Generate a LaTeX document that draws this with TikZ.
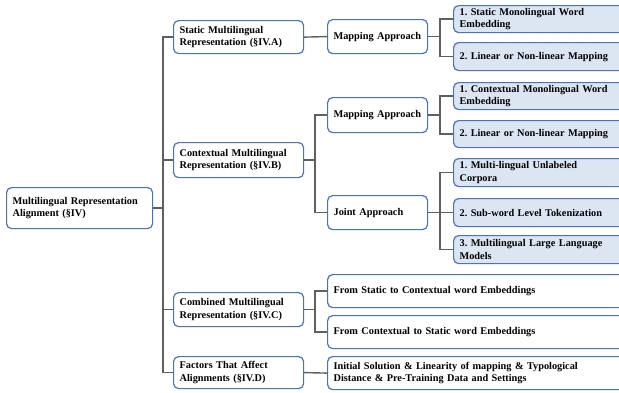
\documentclass[tikz,border=0pt]{standalone}
\usepackage{fontspec}
\setmainfont{Liberation Serif}
\frenchspacing
\definecolor{bord}{HTML}{4A72C0}
\definecolor{leaf}{HTML}{DCE6F3}
\definecolor{conn}{HTML}{606060}
\tikzset{
  box/.style={draw=bord, line width=1.2pt, rounded corners=5pt, fill=white, anchor=north west,
    align=left, inner xsep=6pt, inner ysep=0pt, font=\fontsize{10.3}{12.5}\selectfont\bfseries},
  leafbox/.style={box, fill=leaf},
  link/.style={draw=conn, line width=1.4pt},
}
\begin{document}
\frenchspacing
\begin{tikzpicture}[x=1pt,y=-1pt]
\useasboundingbox (0,0) rectangle (619,392);
\clip (0,0) rectangle (619,392);
% root
\node[box, minimum width=146pt, minimum height=41pt, text width=134pt] (root) at (6,187) {Multilingual Representation\\Alignment (§IV)};
% level 1
\node[box, minimum width=130pt, minimum height=33pt, text width=118pt] (stat) at (173,20) {Static Multilingual\\Representation (§IV.A)};
\node[box, minimum width=130pt, minimum height=35pt, text width=118pt] (ctx) at (173,142) {Contextual Multilingual\\Representation (§IV.B)};
\node[box, minimum width=130pt, minimum height=34pt, text width=118pt] (comb) at (173,292) {Combined Multilingual\\Representation (§IV.C)};
\node[box, minimum width=130pt, minimum height=32pt, text width=118pt] (fact) at (173,356) {Factors That Affect\\Alignments (§IV.D)};
% level 2
\node[box, minimum width=100pt, minimum height=34pt, text width=88pt] (smap) at (327,19) {Mapping Approach};
\node[box, minimum width=100pt, minimum height=35pt, text width=88pt] (cmap) at (327,97) {Mapping Approach};
\node[box, minimum width=100pt, minimum height=34pt, text width=88pt] (joint) at (327,195) {Joint Approach};
\node[box, minimum width=310pt, minimum height=33pt, text width=298pt] (comb1) at (327,274) {From Static to Contextual word Embeddings};
\node[box, minimum width=310pt, minimum height=33pt, text width=298pt] (comb2) at (327,315) {From Contextual to Static word Embeddings};
\node[box, minimum width=310pt, minimum height=33pt, text width=298pt] (fact1) at (327,356) {Initial Solution \& Linearity of mapping \& Typological\\Distance \& Pre-Training Data and Settings};
% level 3
\node[leafbox, minimum width=180pt, minimum height=27pt, text width=168pt, inner xsep=5pt] (s1) at (453,5) {1. Static Monolingual Word\\Embedding};
\node[leafbox, minimum width=180pt, minimum height=28pt, text width=168pt, inner xsep=5pt] (s2) at (453,42) {2. Linear or Non-linear Mapping};
\node[leafbox, minimum width=180pt, minimum height=27pt, text width=168pt, inner xsep=5pt] (c1) at (453,82) {1. Contextual Monolingual Word\\Embedding};
\node[leafbox, minimum width=180pt, minimum height=27pt, text width=168pt, inner xsep=5pt] (c2) at (453,120) {2. Linear or Non-linear Mapping};
\node[leafbox, minimum width=180pt, minimum height=28pt, text width=168pt, inner xsep=5pt] (j1) at (453,158) {1. Multi-lingual Unlabeled\\Corpora};
\node[leafbox, minimum width=180pt, minimum height=28pt, text width=168pt, inner xsep=5pt] (j2) at (453,198) {2. Sub-word Level Tokenization};
\node[leafbox, minimum width=180pt, minimum height=28pt, text width=168pt, inner xsep=5pt] (j3) at (453,235) {3. Multilingual Large Language\\Models};
% trunk coordinates
\coordinate (t1) at (163,0);
\coordinate (t2) at (315,0);
\coordinate (t3) at (440,0);
% connectors root -> level 1
\draw[link] (root.east) -- (root.east -| t1);
\draw[link] (stat.west) -- (stat.west -| t1) -- (fact.west -| t1) -- (fact.west);
\draw[link] (ctx.west) -- (ctx.west -| t1);
\draw[link] (comb.west) -- (comb.west -| t1);
% static
\draw[link] (stat.east) -- (smap.west);
\draw[link] (smap.east) -- (smap.east -| t3);
\draw[link] (s1.west) -- (s1.west -| t3) -- (s2.west -| t3) -- (s2.west);
% contextual
\draw[link] (ctx.east) -- (ctx.east -| t2);
\draw[link] (cmap.west) -- (cmap.west -| t2) -- (joint.west -| t2) -- (joint.west);
\draw[link] (cmap.east) -- (cmap.east -| t3);
\draw[link] (c1.west) -- (c1.west -| t3) -- (c2.west -| t3) -- (c2.west);
\draw[link] (joint.east) -- (j2.west);
\draw[link] (j1.west) -- (j1.west -| t3) -- (j3.west -| t3) -- (j3.west);
% combined
\draw[link] (comb.east) -- (comb.east -| t2);
\draw[link] (comb1.west) -- (comb1.west -| t2) -- (comb2.west -| t2) -- (comb2.west);
% factors
\draw[link] (fact.east) -- (fact1.west);
\end{tikzpicture}
\end{document}
